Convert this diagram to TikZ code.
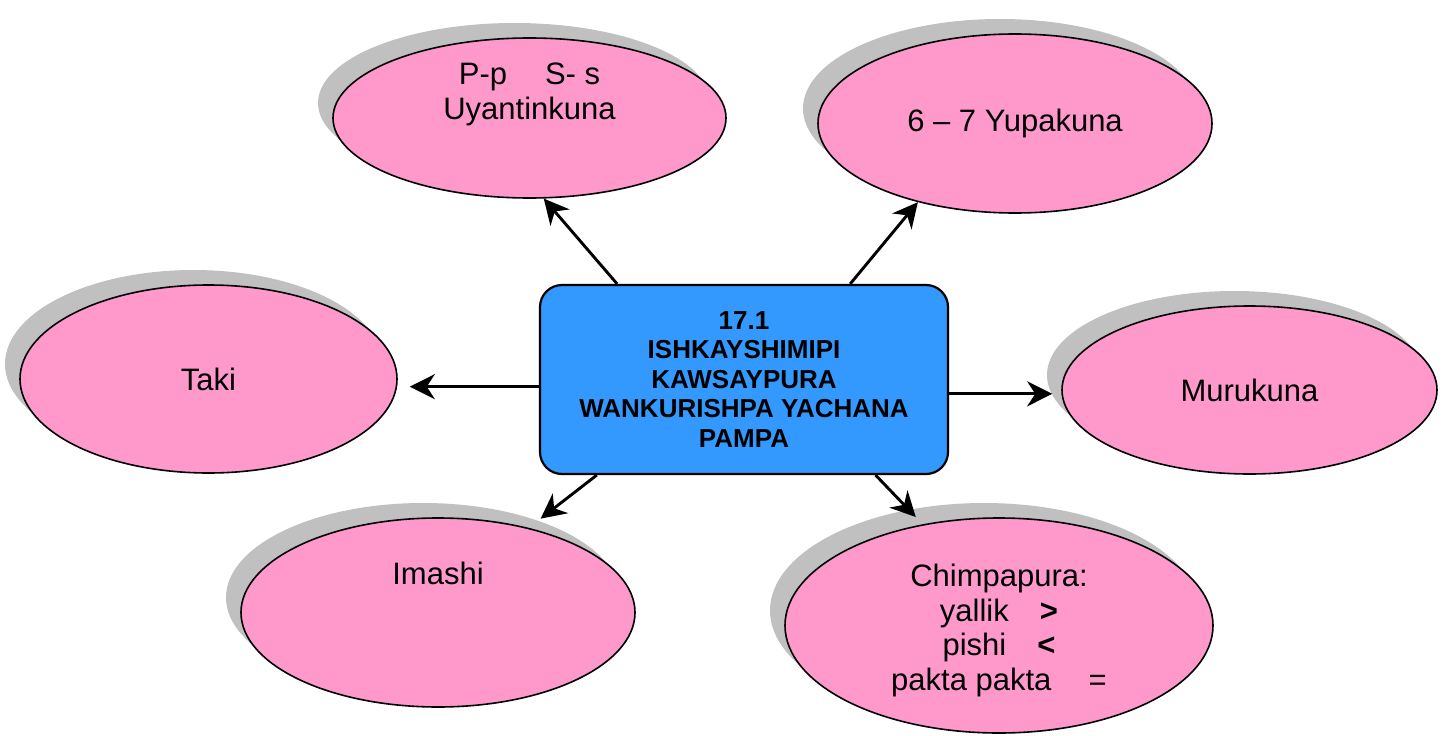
\documentclass[tikz,border=0pt]{standalone}
\usepackage{fontspec}
\setmainfont{Liberation Sans}
\usetikzlibrary{shapes.geometric}
\usetikzlibrary{shadows}
\usetikzlibrary{arrows.meta}
\definecolor{blobpink}{HTML}{FF99CC}
\definecolor{hubblue}{HTML}{3399FF}
\definecolor{shadowgray}{HTML}{C0C0C0}
\tikzset{
blob/.style={ % pink ellipses round the hub
ellipse, draw, line width=1.6pt, fill=blobpink, inner sep=0pt,
drop shadow={shadow xshift=-15pt, shadow yshift=15pt, fill=shadowgray, opacity=1},
font=\fontsize{31pt}{34.7pt}\selectfont, align=center},
blobtext/.style={font=\fontsize{31pt}{34.7pt}\selectfont, align=center, inner sep=0pt},
hub/.style={ % the blue box in the middle
rectangle, rounded corners=22pt, draw, line width=2.2pt, fill=hubblue, inner sep=0pt,
font=\fontsize{26pt}{29.5pt}\selectfont\bfseries, align=center},
every edge/.style={ % arrows from the hub
draw,
-{Stealth[length=25pt, width=25pt, inset=8pt]},
line width=2.9pt}}

\begin{document}
\begin{tikzpicture}[x=1pt, y=-1pt]
	\useasboundingbox (0,0) rectangle (1451,736);
	\node[hub, minimum width=408pt, minimum height=189pt] (hub) at (744,379.5) {17.1\\ISHKAYSHIMIPI\\KAWSAYPURA\\WANKURISHPA YACHANA\\PAMPA};
	\node[blob, minimum width=393pt, minimum height=160pt, label={[blobtext, yshift=23.5pt]center:P-p\hspace{38pt}S- s\\Uyantinkuna}] (pp) at (529.5,118) {};
	\node[blob, minimum width=394pt, minimum height=179pt] (yupa) at (1015,123.5) {6 – 7 Yupakuna};
	\node[blob, minimum width=377pt, minimum height=188pt] (taki) at (208.5,379) {Taki};
	\node[blob, minimum width=375pt, minimum height=168pt] (muru) at (1249.5,390) {Murukuna};
	\node[blob, minimum width=394pt, minimum height=189pt, label={[blobtext, yshift=39.5pt]center:Imashi}] (imashi) at (438,612.5) {};
	\node[blob, minimum width=428pt, minimum height=215pt, label={[blobtext, yshift=-5pt]center:Chimpapura:\\yallik\quad\textbf{>}\\pishi\quad\textbf{<}\\pakta pakta\hspace{1.2em}=}] (chimpa) at (999,625.5) {};
	\draw (hub.143) edge (pp.-80);
	\draw (hub.42) edge (yupa.219);
	\draw (hub.182) edge[shorten >=12pt] (hub.182 -| taki.east);
	\draw (hub.-4) edge[shorten >=9pt] (hub.-4 -| muru.west);
	\draw (hub.213) edge[shorten >=15pt] (imashi.43);
	\draw (hub.-36) edge[shorten >=10pt] (chimpa.127);
\end{tikzpicture}
\end{document}
